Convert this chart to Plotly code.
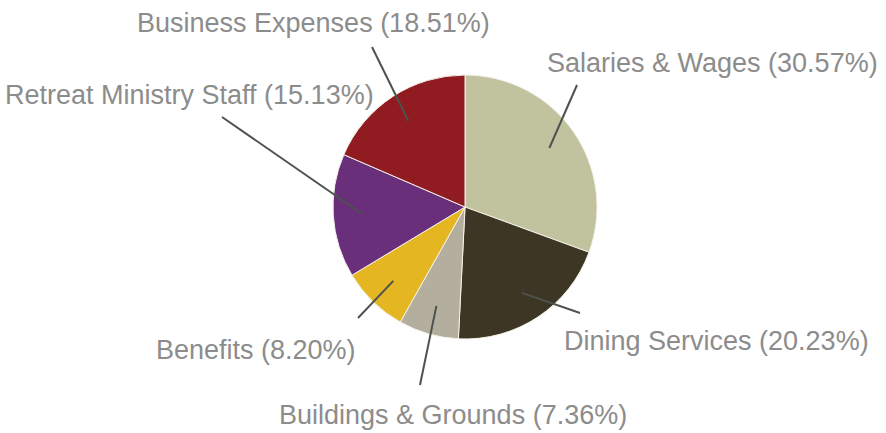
import math
import plotly.graph_objects as go

W, H = 886, 433

labels = ["Salaries & Wages", "Dining Services", "Buildings & Grounds",
          "Benefits", "Retreat Ministry Staff", "Business Expenses"]
shares = [30.57, 20.23, 7.36, 8.20, 15.13, 18.51]
colors = ["#C0C39E", "#3E3624", "#B4AE9F", "#E4B621", "#6A2F7B", "#901C21"]

# pie geometry in pixels
cx, cy, r = 465, 207, 132

# where each leader line ends and where its label sits (pixels)
line_end = [(577, 85), (580, 313), (420, 385), (358, 318), (222, 117), (372, 47)]
label_pos = [(545, 63, "left"), (562, 341, "left"), (453, 415, "center"),
             (358, 350, "right"), (3, 95, "left"), (313, 23, "center")]


def px(x, y):
    return x / W, 1 - y / H


fig = go.Figure(go.Pie(
    labels=labels,
    values=shares,
    sort=False,
    direction="clockwise",
    rotation=0,
    textinfo="none",
    hoverinfo="label+percent",
    marker=dict(colors=colors, line=dict(color="#f4f1e8", width=1)),
    domain=dict(x=[(cx - r) / W, (cx + r) / W],
                y=[1 - (cy + r) / H, 1 - (cy - r) / H]),
    showlegend=False,
))

total = sum(shares)
cum = 0
shapes, annotations = [], []
for i, (lab, v) in enumerate(zip(labels, shares)):
    mid = (cum + v / 2) / total * 2 * math.pi
    cum += v
    tx = cx + 0.78 * r * math.sin(mid)
    ty = cy - 0.78 * r * math.cos(mid)
    x0, y0 = px(tx, ty)
    x1, y1 = px(*line_end[i])
    shapes.append(dict(type="line", xref="paper", yref="paper",
                       x0=x0, y0=y0, x1=x1, y1=y1,
                       line=dict(color="#4d524d", width=2)))
    lx, ly, anchor = label_pos[i]
    ax_, ay_ = px(lx, ly)
    annotations.append(dict(
        text=f"{lab} ({v:.2f}%)", x=ax_, y=ay_, xref="paper", yref="paper",
        xanchor=anchor, yanchor="middle", showarrow=False,
        font=dict(family="Liberation Sans, Arial, sans-serif", size=27, color="#8c8c8c"),
    ))

fig.update_layout(
    width=W, height=H,
    margin=dict(l=0, r=0, t=0, b=0),
    paper_bgcolor="white",
    plot_bgcolor="white",
    shapes=shapes,
    annotations=annotations,
)

# drop the page's default body margin so the chart sits at the top-left corner
fig.write_html("out.html", config={"displayModeBar": False},
               post_script="document.body.style.margin='0';")
